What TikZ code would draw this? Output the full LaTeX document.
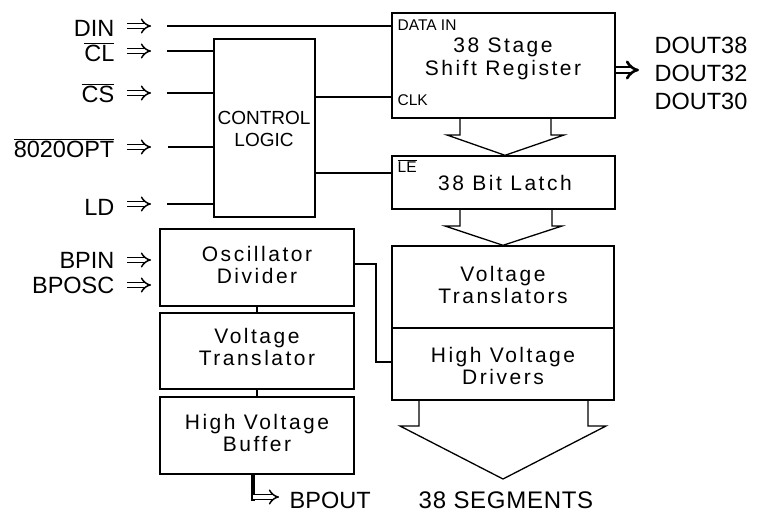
\documentclass[tikz,border=0pt]{standalone}
\usepackage{fontspec}
\usetikzlibrary{arrows.meta}
\setmainfont{Liberation Sans}
\newfontfamily\spaced[LetterSpace=12]{Liberation Sans}
\newcommand{\ovl}[1]{$\overline{\hbox{#1}}$}
\begin{document}
\begin{tikzpicture}[x=1pt,y=-1pt, line width=1.3pt,
  box/.style={draw, line width=1.4pt, inner sep=0pt},
  btxt/.style={font=\spaced\fontsize{21}{22}\selectfont, align=center, inner sep=0pt},
  lbl/.style={font=\fontsize{23.5}{24}\selectfont, inner sep=0pt},
  small/.style={font=\fontsize{15.5}{16}\selectfont, inner sep=0pt},
  dbl/.style={double, double distance=3.6pt, line width=1.5pt, -{Implies}},
  bdbl/.style={double, double distance=3.6pt, line width=2.6pt, -{Implies}},
]
\useasboundingbox (0,0) rectangle (761,512);

% boxes
\node[box, minimum width=223pt, minimum height=105pt] (sr) at (503.5,65.5) {};
\node[box, minimum width=101pt, minimum height=178pt] (cl) at (264.5,128) {};
\node[box, minimum width=223pt, minimum height=53pt] (lt) at (503.5,182.5) {};
\node[box, minimum width=222pt, minimum height=82pt] (vts) at (503,287) {};
\node[box, minimum width=222pt, minimum height=72pt] (hvd) at (503,364) {};
\node[box, minimum width=194pt, minimum height=77pt] (osc) at (257,267.5) {};
\node[box, minimum width=194pt, minimum height=76pt] (vt) at (257,351) {};
\node[box, minimum width=194pt, minimum height=77pt] (hvb) at (257,435.5) {};

% box texts
\node[btxt, font=\spaced\fontsize{21}{23}\selectfont] (srt) at (503,59) {38 Stage\\Shift Register};
\node[small, anchor=west] (dinl) at (397,25) {DATA IN};
\node[small, anchor=west] (clkl) at (397,100) {CLK};
\node[btxt] (ltt) at (505,183) {38 Bit Latch};
\node[small, anchor=west] (lel) at (397,166) {\ovl{LE}};
\node[font=\fontsize{19}{22}\selectfont, align=center, inner sep=0pt] (clt) at (264,129) {CONTROL\\LOGIC};
\node[btxt] (vtst) at (503,285) {Voltage\\Translators};
\node[btxt] (hvdt) at (503,366) {High Voltage\\Drivers};
\node[btxt] (osct) at (257,265) {Oscillator\\Divider};
\node[btxt] (vtt) at (257,347) {Voltage\\Translator};
\node[btxt] (hvbt) at (257,433) {High Voltage\\Buffer};

% left labels
\node[lbl, anchor=base east] (din) at (115,36) {DIN};
\node[lbl, anchor=base east] (clk) at (115,61) {\ovl{CL}};
\node[lbl, anchor=base east] (cs) at (115,102) {\ovl{CS}};
\node[lbl, anchor=base east] (opt) at (115,157) {\ovl{8020OPT}};
\node[lbl, anchor=base east] (ld) at (115,215) {LD};
\node[lbl, anchor=base east] (bpin) at (115,268) {BPIN};
\node[lbl, anchor=base east] (bposc) at (115,293) {BPOSC};
\foreach \n/\y in {a1/26,a2/51,a3/93,a4/147,a5/204,a6/260,a7/285}{
  \coordinate (\n s) at (127,\y);
  \coordinate (\n e) at (151,\y);
  \draw[dbl] (\n s) -- (\n e);
}

% input wires
\coordinate (w1) at (167,26);
\coordinate (w2) at (167,51);
\coordinate (w3) at (167,93);
\coordinate (w4) at (168,147);
\coordinate (w5) at (167,204);
\draw (w1) -- (w1 -| sr.west);
\draw (w2) -- (w2 -| cl.west);
\draw (w3) -- (w3 -| cl.west);
\draw (w4) -- (w4 -| cl.west);
\draw (w5) -- (w5 -| cl.west);
\draw (cl.east |- 0,97) -- (sr.west |- 0,97);
\draw (cl.east |- 0,173) -- (lt.west |- 0,173);

% outputs
\coordinate (das) at (616,70);
\coordinate (dae) at (639,70);
\draw[bdbl] (das) -- (dae);
\node[lbl, anchor=base west] (d38) at (654,53) {DOUT38};
\node[lbl, anchor=base west] (d32) at (654,81) {DOUT32};
\node[lbl, anchor=base west] (d30) at (654,109) {DOUT30};

% hollow arrows
\draw[line join=miter] (460,0 |- sr.south) -- (460,135) -- (447,135) -- (505,0 |- lt.north) -- (564,135) -- (551,135) -- (551,0 |- sr.south);
\draw[line join=miter] (460,0 |- lt.south) -- (460,226) -- (445,226) -- (503,0 |- vts.north) -- (562,226) -- (552,226) -- (552,0 |- lt.south);
\draw[line join=miter] (419,0 |- hvd.south) -- (419,426) -- (400,426) -- (503,479) -- (606,426) -- (588,426) -- (588,0 |- hvd.south);
\node[lbl, font=\fontsize{24}{26}\selectfont\addfontfeature{LetterSpace=3}, anchor=base] (seg) at (506,508) {38 SEGMENTS};

% oscillator to drivers
\draw (osc.east |- 0,264) -- (376,264) -- (376,362) -- (hvd.west |- 0,362);
\draw (osc.south) -- (vt.north);
\draw (vt.south) -- (hvb.north);

% BPOUT
\coordinate (bps) at (253,497);
\coordinate (bpe) at (279,497);
\draw[line width=3.5pt] (253,0 |- hvb.south) -- (253,501);
\draw[dbl] (bps) -- (bpe);
\node[lbl, anchor=base west] (bpout) at (289,508) {BPOUT};
\end{tikzpicture}
\end{document}
